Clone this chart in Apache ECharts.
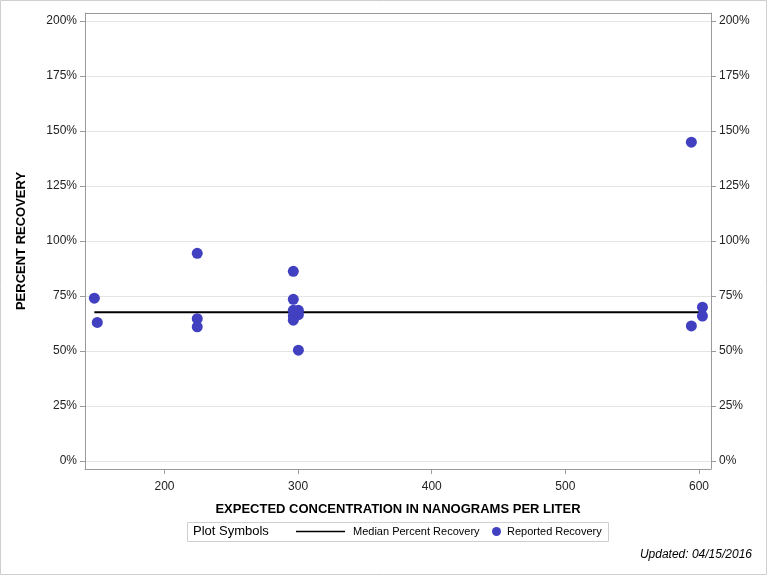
<!DOCTYPE html>
<html><head><meta charset="utf-8">
<script src="https://cdn.jsdelivr.net/npm/echarts@6/dist/echarts.min.js"></script>
<style>html,body{margin:0;padding:0;background:#fff}#c{width:768px;height:576px}</style>
</head><body><div id="c"></div>
<script>
// Data
const recoveryPoints = [
  [147.5, 74.0], [149.7, 63.0],
  [224.5, 94.4], [224.5, 64.7], [224.5, 61.0],
  [296.4, 86.2], [296.4, 73.5], [296.4, 68.5], [300.2, 68.5], [296.4, 66.0], [300.2, 66.5], [296.4, 64.0], [300.2, 50.4],
  [594.3, 144.9], [594.3, 61.4], [602.6, 69.9], [602.6, 65.9]
];
const medianRecovery = 67.6;
const medianRange = [147.5, 602.6];
const xTicks = [200, 300, 400, 500, 600];
const yTicks = [0, 25, 50, 75, 100, 125, 150, 175, 200];
const xTitle = 'EXPECTED CONCENTRATION IN NANOGRAMS PER LITER';
const yTitle = 'PERCENT RECOVERY';
const updatedText = 'Updated: 04/15/2016';

const chart = echarts.init(document.getElementById('c'), null, {renderer: 'canvas'});
const font = 'Liberation Sans Narrow, Liberation Sans, Arial, sans-serif';
const axisColor = '#9a9a9a';
const yAxisCommon = {
  type: 'value', min: -3.6, max: 203.6,
  axisLine: {show: true, onZero: false, lineStyle: {color: axisColor}},
  axisTick: {show: true, length: 5, customValues: yTicks, lineStyle: {color: axisColor}},
  axisLabel: {customValues: yTicks, formatter: v => v + '%', color: '#222', fontFamily: font, fontSize: 12, margin: 8},
  splitLine: {show: false}
};
chart.setOption({
  animation: false,
  grid: {left: 85, right: 57, top: 13, bottom: 107, containLabel: false},
  xAxis: {
    type: 'value', min: 140.5, max: 609,
    axisLine: {show: true, onZero: false, lineStyle: {color: axisColor}},
    axisTick: {show: true, length: 5, customValues: xTicks, lineStyle: {color: axisColor}},
    axisLabel: {customValues: xTicks, color: '#222', fontFamily: font, fontSize: 12, margin: 12},
    splitLine: {show: false},
    name: xTitle, nameLocation: 'middle', nameGap: 34,
    nameTextStyle: {fontFamily: 'Liberation Sans, Arial, sans-serif', fontWeight: 'bold', fontSize: 13, color: '#000'}
  },
  yAxis: [
    Object.assign({}, yAxisCommon, {position: 'left', name: yTitle, nameLocation: 'middle', nameGap: 57,
      nameTextStyle: {fontFamily: 'Liberation Sans, Arial, sans-serif', fontWeight: 'bold', fontSize: 13, color: '#000'}}),
    Object.assign({}, yAxisCommon, {position: 'right'})
  ],
  legend: [
    {data: [{name: 'Median Percent Recovery', icon: 'rect'}], left: 296, top: 526, itemWidth: 49, itemHeight: 1.5, itemGap: 0,
      textStyle: {fontFamily: 'Liberation Sans, Arial, sans-serif', fontSize: 11, color: '#000', padding: [0,0,0,3]}, padding: 0},
    {data: ['Reported Recovery'], left: 492, top: 526, itemWidth: 9, itemHeight: 9, icon: 'circle',
      textStyle: {fontFamily: 'Liberation Sans, Arial, sans-serif', fontSize: 11, color: '#000', padding: [0,0,0,1]}, padding: 0}
  ],
  graphic: [
    {type: 'rect', shape: {x: 0.5, y: 0.5, width: 766, height: 574}, style: {fill: 'none', stroke: '#cfcfcf', lineWidth: 1}, silent: true, z: -1},
    {type: 'rect', shape: {x: 187.5, y: 522.5, width: 421, height: 19}, style: {fill: 'none', stroke: '#cfcfcf', lineWidth: 1}, silent: true},
    {type: 'text', left: 193, top: 525, style: {text: 'Plot Symbols', font: '13px Liberation Sans, Arial, sans-serif', fill: '#000'}},
    {type: 'text', right: 16, top: 549, style: {text: updatedText, font: 'italic 12px Liberation Sans, Arial, sans-serif', fill: '#000'}},
    {type: 'line', shape: {x1: 711.5, y1: 13, x2: 711.5, y2: 469}, style: {stroke: axisColor}, silent: true},
    {type: 'line', shape: {x1: 85, y1: 13.5, x2: 711, y2: 13.5}, style: {stroke: axisColor}, silent: true}
  ],
  series: [
    {
      name: 'gridlines', type: 'line', data: [], silent: true, z: 0,
      markLine: {silent: true, z: 0, symbol: 'none', label: {show: false}, lineStyle: {color: '#e4e4e4', type: 'solid', width: 1},
        data: yTicks.map(v => ({yAxis: v}))}
    },
    {
      name: 'Median Percent Recovery', type: 'line', showSymbol: false, symbol: 'none',
      data: [[medianRange[0], medianRecovery], [medianRange[1], medianRecovery]],
      lineStyle: {color: '#000', width: 2}, itemStyle: {color: '#000'}, z: 3
    },
    {
      name: 'Reported Recovery', type: 'scatter', data: recoveryPoints, symbolSize: 11,
      itemStyle: {color: '#4040c0', opacity: 1}, z: 10
    }
  ]
});
</script></body></html>
